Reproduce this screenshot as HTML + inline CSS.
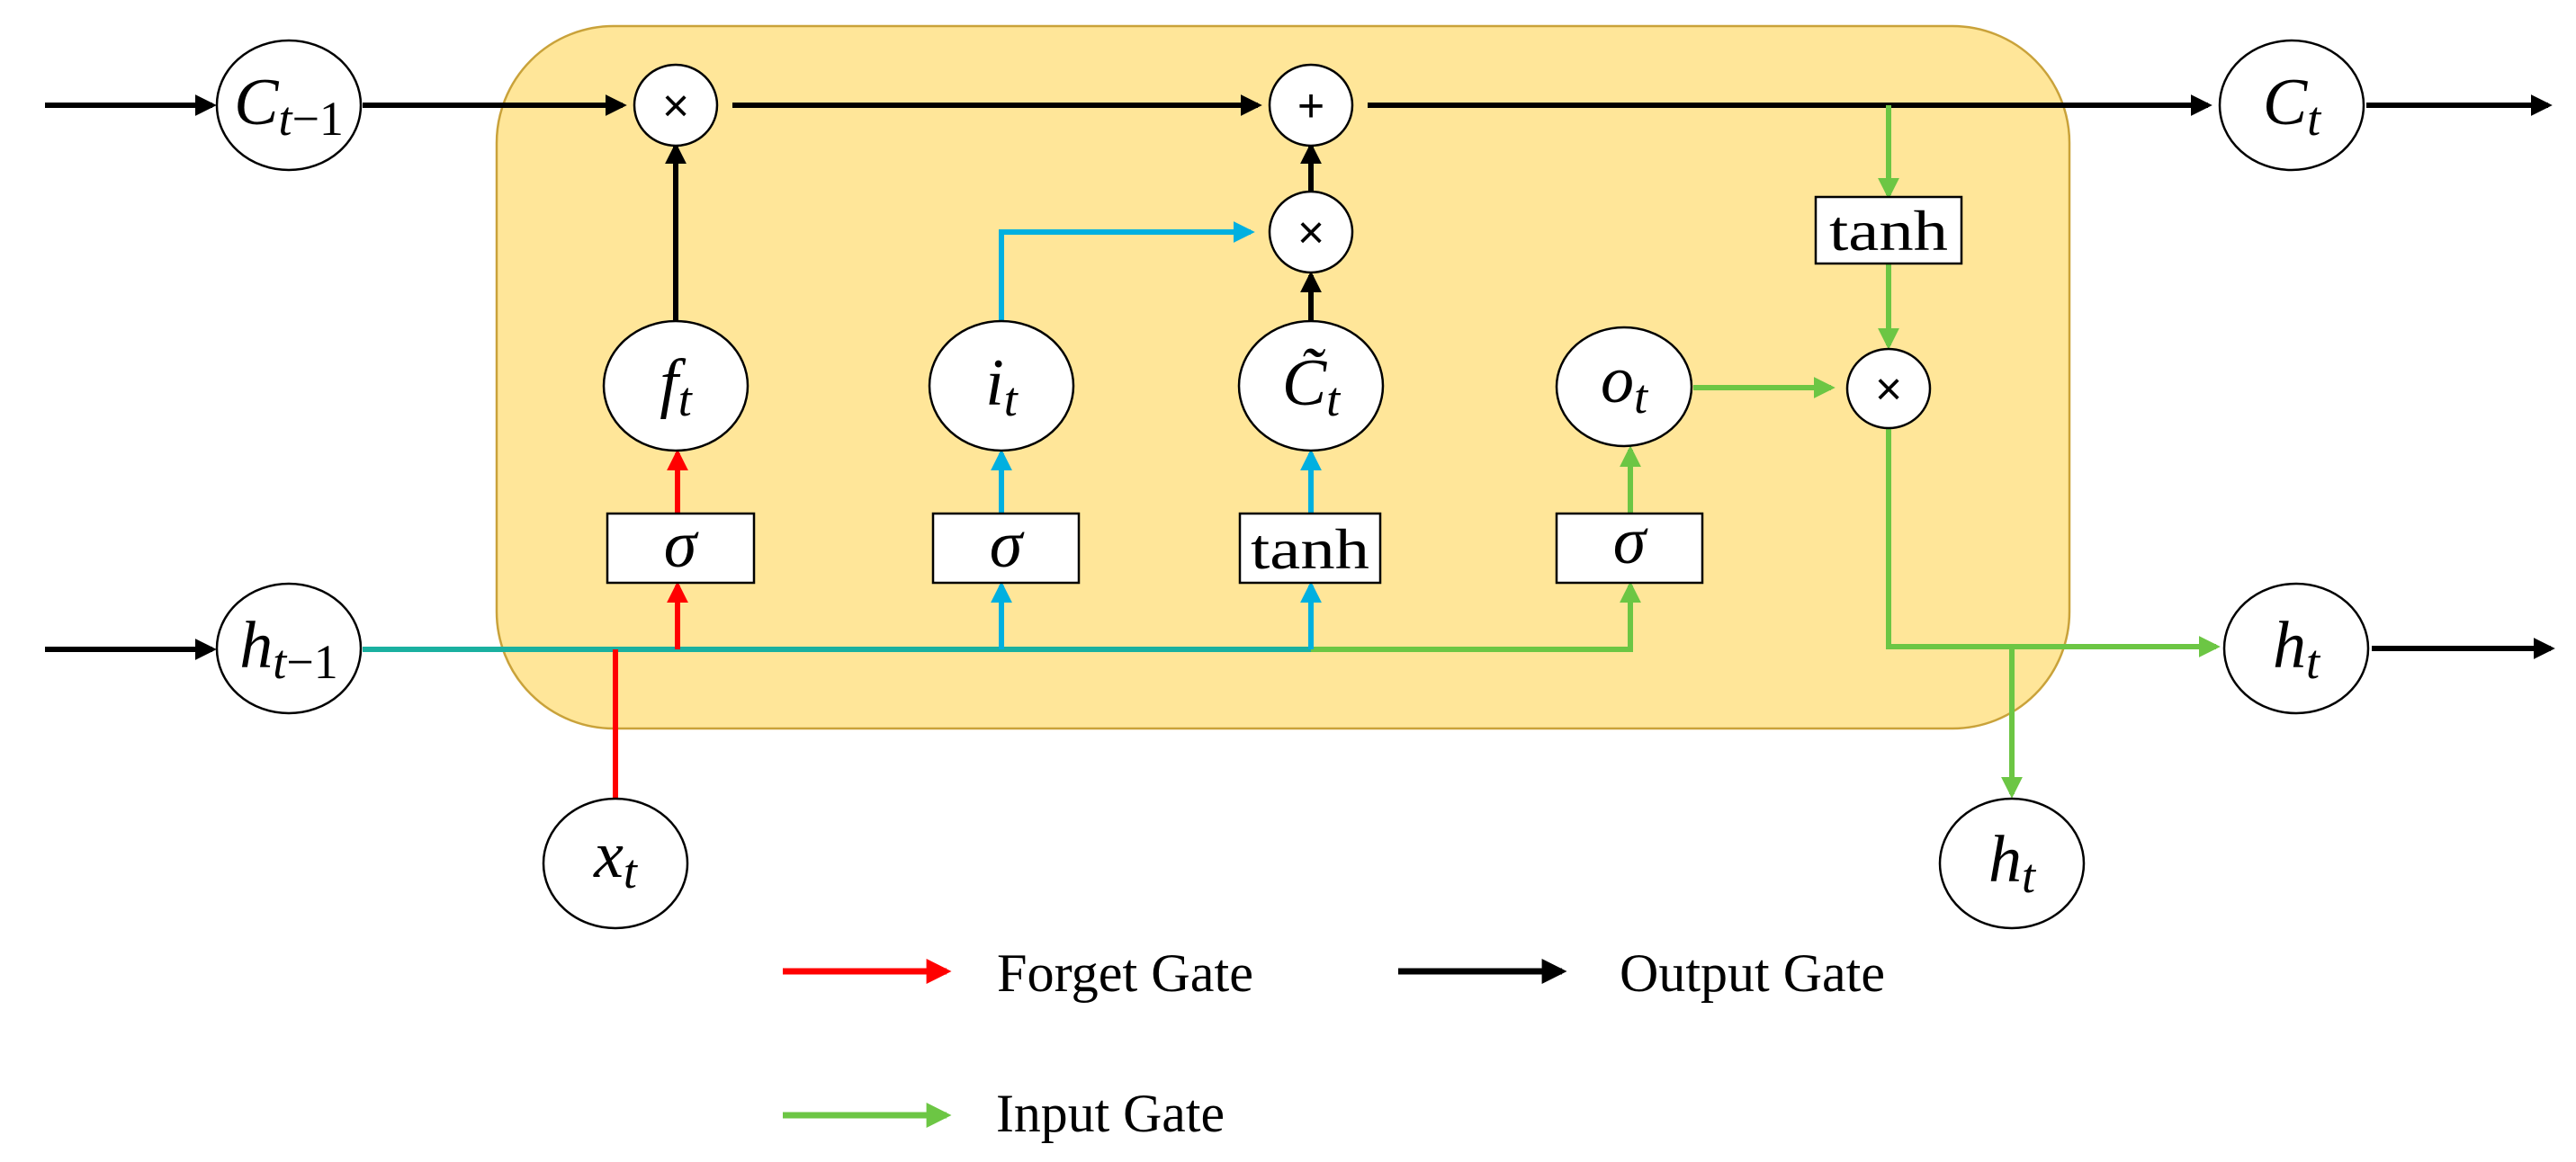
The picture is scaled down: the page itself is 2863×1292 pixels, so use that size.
<!DOCTYPE html>
<html><head><meta charset="utf-8"><style>html,body{margin:0;padding:0;background:#fff}svg{display:block}</style></head><body>
<svg width="2863" height="1292" viewBox="0 0 2863 1292" xmlns="http://www.w3.org/2000/svg">
<defs>
<marker id="ak" markerWidth="4" markerHeight="4" refX="3.2" refY="2" orient="auto" markerUnits="strokeWidth"><path d="M0,0 L4,2 L0,4 z" fill="#000"/></marker>
<marker id="ar" markerWidth="4" markerHeight="4" refX="3.2" refY="2" orient="auto" markerUnits="strokeWidth"><path d="M0,0 L4,2 L0,4 z" fill="#ff0000"/></marker>
<marker id="ab" markerWidth="4" markerHeight="4" refX="3.2" refY="2" orient="auto" markerUnits="strokeWidth"><path d="M0,0 L4,2 L0,4 z" fill="#00b0e0"/></marker>
<marker id="ag" markerWidth="4" markerHeight="4" refX="3.2" refY="2" orient="auto" markerUnits="strokeWidth"><path d="M0,0 L4,2 L0,4 z" fill="#6cc644"/></marker>
</defs>
<rect x="552" y="29" width="1748" height="781" rx="130" ry="130" fill="#ffe699" stroke="#c9a23a" stroke-width="2.5"/>
<g fill="none" stroke-width="6">
<line x1="50" y1="117" x2="236" y2="117" stroke="#000" marker-end="url(#ak)"/>
<line x1="403" y1="117" x2="692" y2="117" stroke="#000" marker-end="url(#ak)"/>
<line x1="814" y1="117" x2="1398" y2="117" stroke="#000" marker-end="url(#ak)"/>
<line x1="1520" y1="117" x2="2454" y2="117" stroke="#000" marker-end="url(#ak)"/>
<line x1="2630" y1="117" x2="2832" y2="117" stroke="#000" marker-end="url(#ak)"/>
<line x1="50" y1="722" x2="236" y2="722" stroke="#000" marker-end="url(#ak)"/>
<line x1="2636" y1="721" x2="2835" y2="721" stroke="#000" marker-end="url(#ak)"/>
<line x1="751" y1="357" x2="751" y2="163" stroke="#000" marker-end="url(#ak)"/>
<line x1="1457" y1="357" x2="1457" y2="306" stroke="#000" marker-end="url(#ak)"/>
<line x1="1457" y1="212" x2="1457" y2="163" stroke="#000" marker-end="url(#ak)"/>
<line x1="403" y1="722" x2="1457" y2="722" stroke="#1ab0a0"/>
<polyline points="1457,722 1812,722 1812,651" stroke="#6cc644" marker-end="url(#ag)"/>
<line x1="684" y1="722" x2="684" y2="888" stroke="#ff0000"/>
<line x1="753" y1="722" x2="753" y2="651" stroke="#ff0000" marker-end="url(#ar)"/>
<line x1="753" y1="571" x2="753" y2="504" stroke="#ff0000" marker-end="url(#ar)"/>
<line x1="1113" y1="722" x2="1113" y2="651" stroke="#00b0e0" marker-end="url(#ab)"/>
<line x1="1113" y1="571" x2="1113" y2="504" stroke="#00b0e0" marker-end="url(#ab)"/>
<polyline points="1113,357 1113,258 1390,258" stroke="#00b0e0" marker-end="url(#ab)"/>
<line x1="1457" y1="722" x2="1457" y2="651" stroke="#00b0e0" marker-end="url(#ab)"/>
<line x1="1457" y1="571" x2="1457" y2="504" stroke="#00b0e0" marker-end="url(#ab)"/>
<line x1="1812" y1="571" x2="1812" y2="500" stroke="#6cc644" marker-end="url(#ag)"/>
<line x1="1882" y1="431" x2="2035" y2="431" stroke="#6cc644" marker-end="url(#ag)"/>
<line x1="2099" y1="117" x2="2099" y2="217" stroke="#6cc644" marker-end="url(#ag)"/>
<line x1="2099" y1="293" x2="2099" y2="384" stroke="#6cc644" marker-end="url(#ag)"/>
<polyline points="2099,476 2099,719 2463,719" stroke="#6cc644" marker-end="url(#ag)"/>
<line x1="2236" y1="719" x2="2236" y2="883" stroke="#6cc644" marker-end="url(#ag)"/>
<line x1="870" y1="1080" x2="1052" y2="1080" stroke="#ff0000" stroke-width="7" marker-end="url(#ar)"/>
<line x1="1554" y1="1080" x2="1736" y2="1080" stroke="#000" stroke-width="7" marker-end="url(#ak)"/>
<line x1="870" y1="1240" x2="1052" y2="1240" stroke="#6cc644" stroke-width="7" marker-end="url(#ag)"/>
</g>
<g fill="#fff" stroke="#000" stroke-width="2.5">
<ellipse cx="321" cy="117" rx="80" ry="72"/>
<ellipse cx="321" cy="721" rx="80" ry="72"/>
<ellipse cx="684" cy="960" rx="80" ry="72"/>
<ellipse cx="2547" cy="117" rx="80" ry="72"/>
<ellipse cx="2552" cy="721" rx="80" ry="72"/>
<ellipse cx="2236" cy="960" rx="80" ry="72"/>
<ellipse cx="751" cy="429" rx="80" ry="72"/>
<ellipse cx="1113" cy="429" rx="80" ry="72"/>
<ellipse cx="1457" cy="429" rx="80" ry="72"/>
<ellipse cx="1805" cy="430" rx="75" ry="66"/>
<ellipse cx="751" cy="117" rx="46" ry="45"/>
<ellipse cx="1457" cy="117" rx="46" ry="45"/>
<ellipse cx="1457" cy="258" rx="46" ry="45"/>
<ellipse cx="2099" cy="432" rx="46" ry="44"/>
<rect x="675" y="571" width="163" height="77"/>
<rect x="1037" y="571" width="162" height="77"/>
<rect x="1378" y="571" width="156" height="77"/>
<rect x="1730" y="571" width="162" height="77"/>
<rect x="2018" y="219" width="162" height="74"/>
</g>
<g font-family="'Liberation Serif', serif" text-anchor="middle" fill="#000">
<g font-size="52" font-family="'Liberation Sans', sans-serif">
<text x="751" y="135">×</text><text x="1457" y="135">+</text><text x="1457" y="276">×</text><text x="2099" y="450">×</text>
</g>
<g font-size="74" font-style="italic">
<text x="321" y="138">C<tspan font-size="54" dy="12">t</tspan><tspan font-style="normal" font-size="54">−1</tspan></text>
<text x="321" y="742">h<tspan font-size="54" dy="12">t</tspan><tspan font-style="normal" font-size="54">−1</tspan></text>
<text x="684" y="975">x<tspan font-size="54" dy="12">t</tspan></text>
<text x="2547" y="138">C<tspan font-size="54" dy="12">t</tspan></text>
<text x="2552" y="742">h<tspan font-size="54" dy="12">t</tspan></text>
<text x="2236" y="980">h<tspan font-size="54" dy="12">t</tspan></text>
<text x="751" y="450">f<tspan font-size="54" dy="12">t</tspan></text>
<text x="1113" y="450">i<tspan font-size="54" dy="12">t</tspan></text>
<text x="1457" y="450">C̃<tspan font-size="54" dy="12">t</tspan></text>
<text x="1805" y="447">o<tspan font-size="54" dy="12">t</tspan></text>
<text x="756" y="630">σ</text><text x="1118" y="630">σ</text><text x="1811" y="626">σ</text>
</g>
<g font-size="64">
<text x="1456" y="632" textLength="132" lengthAdjust="spacingAndGlyphs">tanh</text><text x="2099" y="278" textLength="132" lengthAdjust="spacingAndGlyphs">tanh</text>
</g>
<g font-size="60" text-anchor="start">
<text x="1108" y="1102" textLength="285" lengthAdjust="spacingAndGlyphs">Forget Gate</text>
<text x="1800" y="1102" textLength="295" lengthAdjust="spacingAndGlyphs">Output Gate</text>
<text x="1107" y="1258" textLength="254" lengthAdjust="spacingAndGlyphs">Input Gate</text>
</g>
</g>
</svg>
</body></html>
